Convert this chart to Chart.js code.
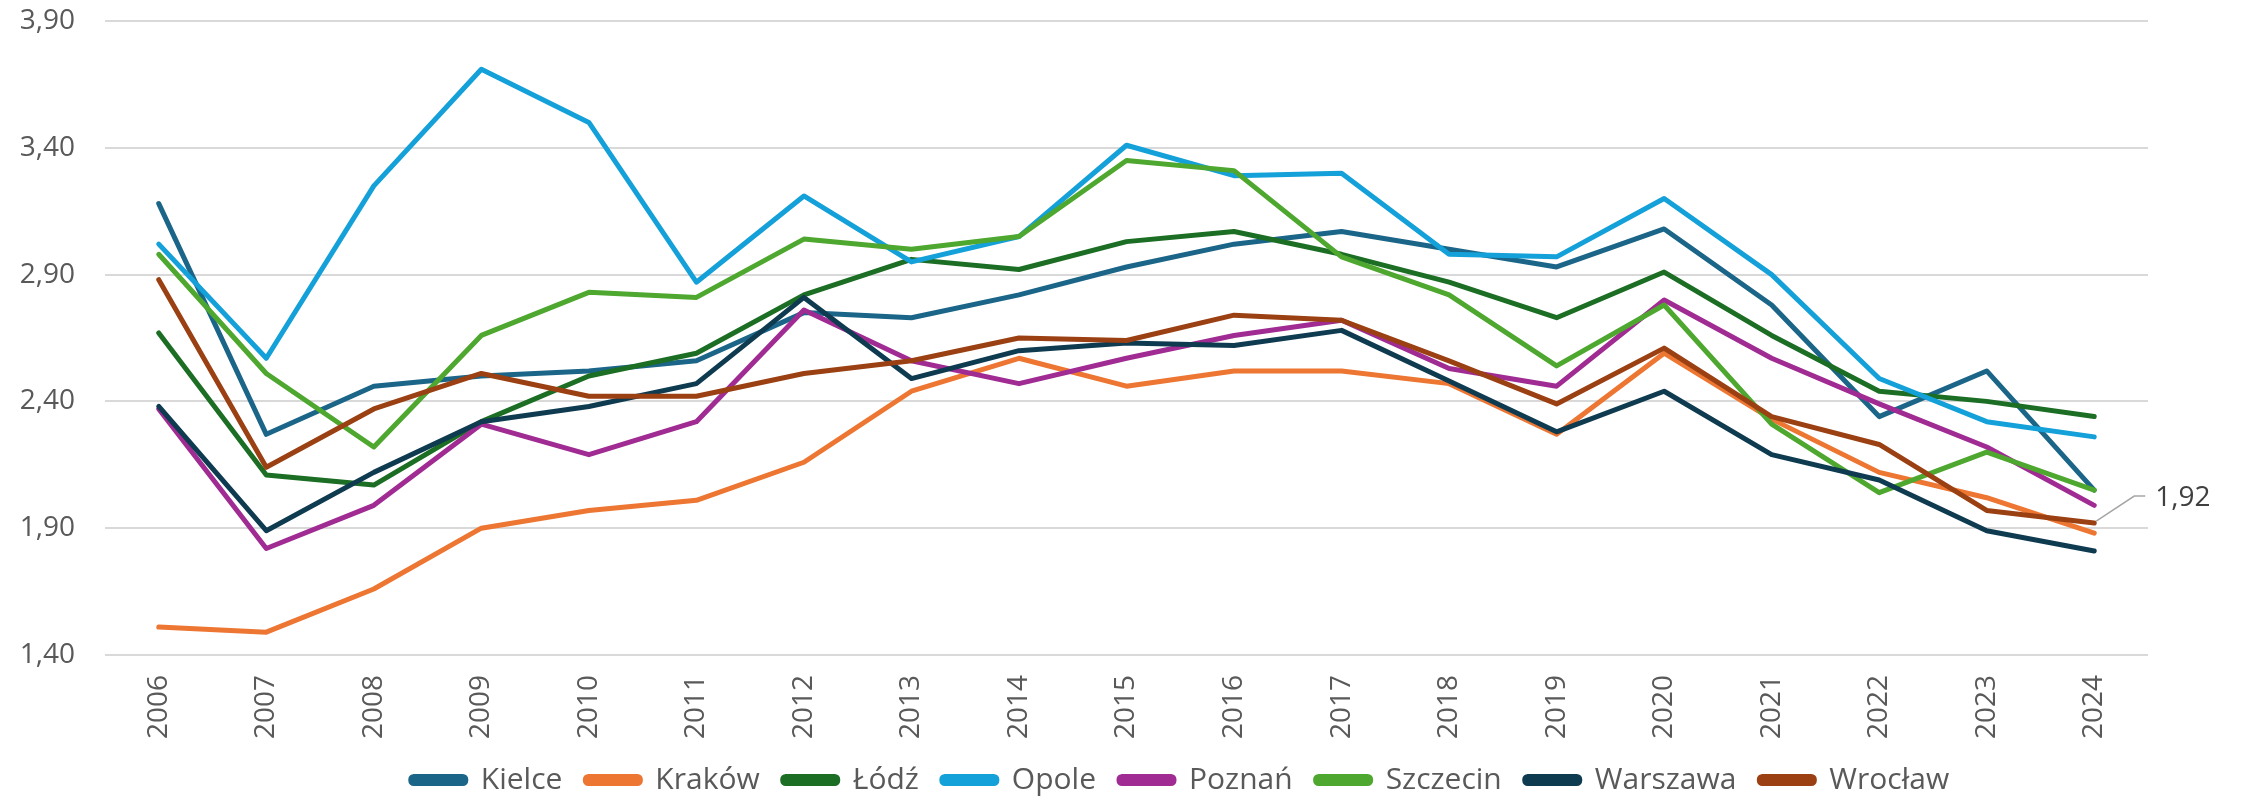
<!DOCTYPE html>
<html>
<head>
<meta charset="utf-8">
<script src="https://cdn.jsdelivr.net/npm/chart.js"></script>
<style>
  html, body { margin: 0; padding: 0; background: #fff; }
  #wrap { width: 2244px; height: 804px; position: relative; }
</style>
</head>
<body>
<div id="wrap"><canvas id="chart"></canvas></div>
<script>
// lata
const years = ["2006","2007","2008","2009","2010","2011","2012","2013","2014","2015",
               "2016","2017","2018","2019","2020","2021","2022","2023","2024"];

// wartości dla miast
const kielce   = [3.18,2.27,2.46,2.50,2.52,2.56,2.75,2.73,2.82,2.93,3.02,3.07,3.00,2.93,3.08,2.78,2.34,2.52,2.05];
const krakow   = [1.51,1.49,1.66,1.90,1.97,2.01,2.16,2.44,2.57,2.46,2.52,2.52,2.47,2.27,2.59,2.33,2.12,2.02,1.88];
const lodz     = [2.67,2.11,2.07,2.32,2.50,2.59,2.82,2.96,2.92,3.03,3.07,2.98,2.87,2.73,2.91,2.66,2.44,2.40,2.34];
const opole    = [3.02,2.57,3.25,3.71,3.50,2.87,3.21,2.95,3.05,3.41,3.29,3.30,2.98,2.97,3.20,2.90,2.49,2.32,2.26];
const poznan   = [2.37,1.82,1.99,2.31,2.19,2.32,2.76,2.56,2.47,2.57,2.66,2.72,2.53,2.46,2.80,2.57,2.39,2.22,1.99];
const szczecin = [2.98,2.51,2.22,2.66,2.83,2.81,3.04,3.00,3.05,3.35,3.31,2.97,2.82,2.54,2.78,2.31,2.04,2.20,2.05];
const warszawa = [2.38,1.89,2.12,2.32,2.38,2.47,2.81,2.49,2.60,2.63,2.62,2.68,2.48,2.28,2.44,2.19,2.09,1.89,1.81];
const wroclaw  = [2.88,2.14,2.37,2.51,2.42,2.42,2.51,2.56,2.65,2.64,2.74,2.72,2.56,2.39,2.61,2.34,2.23,1.97,1.92];

const names  = ["Kielce","Kraków","Łódź","Opole","Poznań","Szczecin","Warszawa","Wrocław"];
const series = [kielce, krakow, lodz, opole, poznan, szczecin, warszawa, wroclaw];
const colors = ["#1A6588","#EC7632","#1C6E24","#14A0D8","#A02B93","#4EA72E","#0F3B51","#9B4013"];

// oś Y
const yMin = 1.4, yMax = 3.9, yStep = 0.5;

const fmt = v => v.toFixed(2).replace(".", ",");
const FONT = "'Open Sans', sans-serif";
const TXT = "#595959";

// etykieta z linią odniesienia dla ostatniego punktu Wrocławia
const lastLabel = {
  id: "lastLabel",
  afterDatasetsDraw(chart) {
    const idx = names.indexOf("Wrocław");
    const meta = chart.getDatasetMeta(idx);
    const pt = meta.data[meta.data.length - 1];
    if (!pt) return;
    const ctx = chart.ctx;
    ctx.save();
    ctx.strokeStyle = "#A6A6A6";
    ctx.lineWidth = 1.5;
    ctx.beginPath();
    ctx.moveTo(pt.x + 2, pt.y - 2);
    ctx.lineTo(pt.x + 40, pt.y - 27);
    ctx.lineTo(pt.x + 51, pt.y - 27);
    ctx.stroke();
    ctx.fillStyle = "#404040";
    ctx.font = "28px " + FONT;
    ctx.textBaseline = "middle";
    ctx.textAlign = "left";
    ctx.fillText(fmt(wroclaw[wroclaw.length - 1]), pt.x + 61, pt.y - 25);
    ctx.restore();
  }
};

// legenda przesunięta w prawo, jak w oryginale
const legendShift = {
  id: "legendShift",
  afterLayout(chart) {
    chart.legend.left += 193;
  }
};

// bez dodatkowych marginesów od etykiet osi
const noPad = scale => {
  scale.paddingLeft = 0;
  scale.paddingRight = 0;
  scale.paddingTop = 0;
  scale.paddingBottom = 0;
};

new Chart(document.getElementById("chart"), {
  type: "line",
  data: {
    labels: years,
    datasets: series.map((d, i) => ({
      label: names[i],
      data: d,
      borderColor: colors[i],
      backgroundColor: colors[i],
      borderWidth: 5,
      borderCapStyle: "round",
      borderJoinStyle: "round",
      pointRadius: 0,
      tension: 0,
      order: series.length - i,
    })),
  },
  options: {
    responsive: true,
    maintainAspectRatio: false,
    animation: false,
    layout: { padding: { left: 19, right: 96, top: 21, bottom: -1 } },
    plugins: {
      tooltip: { enabled: false },
      legend: {
        position: "bottom",
        labels: {
          color: TXT,
          font: { family: FONT, size: 30 },
          boxWidth: 55,
          boxHeight: 7,
          useBorderRadius: true,
          borderRadius: 3,
          padding: 23,
          sort: (a, b) => a.datasetIndex - b.datasetIndex,
        },
      },
    },
    scales: {
      x: {
        offset: true,
        afterFit: s => { noPad(s); s.height -= 17; },
        grid: { display: false, drawTicks: false },
        border: { display: false },
        ticks: {
          color: TXT,
          font: { family: FONT, size: 28 },
          minRotation: 90,
          maxRotation: 90,
          padding: 20,
        },
      },
      y: {
        min: yMin,
        max: yMax,
        afterFit: s => { noPad(s); s.width = 86; },
        grid: { color: "#D9D9D9", lineWidth: 2, drawTicks: false },
        border: { display: false },
        ticks: {
          stepSize: yStep,
          color: TXT,
          font: { family: FONT, size: 28 },
          padding: 30,
          callback: v => fmt(v),
        },
      },
    },
  },
  plugins: [lastLabel, legendShift],
});
</script>
</body>
</html>
